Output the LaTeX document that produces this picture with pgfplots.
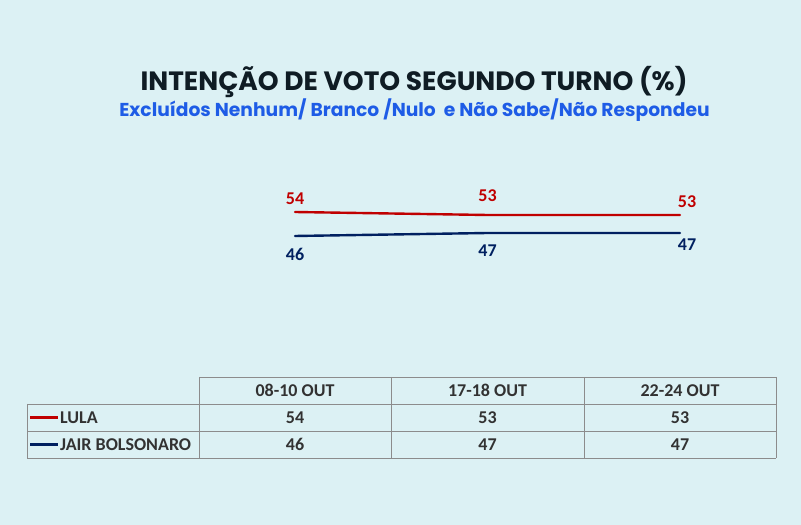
\documentclass[border=0pt]{standalone}
\usepackage{pgfplots}
\pgfplotsset{compat=1.18}
\usepackage{fontspec}
\setmainfont{Carlito}
\newfontfamily\poppins{Poppins}
\definecolor{bg}{RGB}{220,241,244}
\definecolor{titlec}{RGB}{15,28,36}
\definecolor{subc}{RGB}{30,92,230}
\definecolor{lula}{RGB}{192,0,0}
\definecolor{bolso}{RGB}{0,32,96}
\definecolor{grid}{RGB}{140,140,140}
\definecolor{tabtext}{RGB}{50,50,50}
\begin{document}
\begin{tikzpicture}[x=1pt,y=1pt]
\fill[bg] (0,0) rectangle (801,525);
\useasboundingbox (0,0) rectangle (801,525);
\node[font=\poppins\bfseries\fontsize{26.5}{30}\selectfont, text=titlec] at (414,443) {INTENÇÃO DE VOTO SEGUNDO TURNO (\%)};
\node[font=\poppins\bfseries\fontsize{18.7}{21}\selectfont, text=subc] at (414.5,415) {Excluídos Nenhum/ Branco /Nulo\ \ e Não Sabe/Não Respondeu};
\begin{axis}[at={(295pt,271pt)}, anchor=south west, scale only axis, width=385pt, height=60pt,
  xmin=0, xmax=2, ymin=40, ymax=60, hide axis, clip=false]
\addplot[lula, line width=2.4pt, line cap=round] coordinates {(0,54) (1,53) (2,53)};
\addplot[bolso, line width=2.4pt, line cap=round] coordinates {(0,46) (1,47) (2,47)};
\node[text=lula, font=\bfseries\fontsize{18}{20}\selectfont, yshift=13pt] at (axis cs:0,54) {54};
\node[text=lula, font=\bfseries\fontsize{18}{20}\selectfont, yshift=19pt] at (axis cs:1,53) {53};
\node[text=lula, font=\bfseries\fontsize{18}{20}\selectfont, yshift=13pt, xshift=7pt] at (axis cs:2,53) {53};
\node[text=bolso, font=\bfseries\fontsize{18}{20}\selectfont, yshift=-18pt] at (axis cs:0,46) {46};
\node[text=bolso, font=\bfseries\fontsize{18}{20}\selectfont, yshift=-18pt] at (axis cs:1,47) {47};
\node[text=bolso, font=\bfseries\fontsize{18}{20}\selectfont, yshift=-12pt, xshift=7pt] at (axis cs:2,47) {47};
\end{axis}
% table
\draw[grid, line width=0.8pt] (199,148) -- (776,148);
\draw[grid, line width=0.8pt] (27,121) -- (776,121);
\draw[grid, line width=0.8pt] (27,94) -- (776,94);
\draw[grid, line width=0.8pt] (27,67) -- (776,67);
\draw[grid, line width=0.8pt] (27,121) -- (27,67);
\foreach \x in {199,391,584,776} \draw[grid, line width=0.8pt] (\x,148) -- (\x,67);
\begin{scope}[every node/.style={font=\bfseries\fontsize{18}{20}\selectfont, text=tabtext}]
\node at (295,134.5) {08-10 OUT};
\node at (487.5,134.5) {17-18 OUT};
\node at (680,134.5) {22-24 OUT};
\node at (295,107.5) {54};
\node at (487.5,107.5) {53};
\node at (680,107.5) {53};
\node at (295,80.5) {46};
\node at (487.5,80.5) {47};
\node at (680,80.5) {47};
\node[anchor=west, inner xsep=0pt] at (60,107.5) {LULA};
\node[anchor=west, inner xsep=0pt] at (60,80.5) {JAIR BOLSONARO};
\end{scope}
\draw[lula, line width=2.2pt] (30,107.5) -- (58,107.5);
\draw[bolso, line width=2.2pt] (30,80.5) -- (58,80.5);
\end{tikzpicture}
\end{document}
